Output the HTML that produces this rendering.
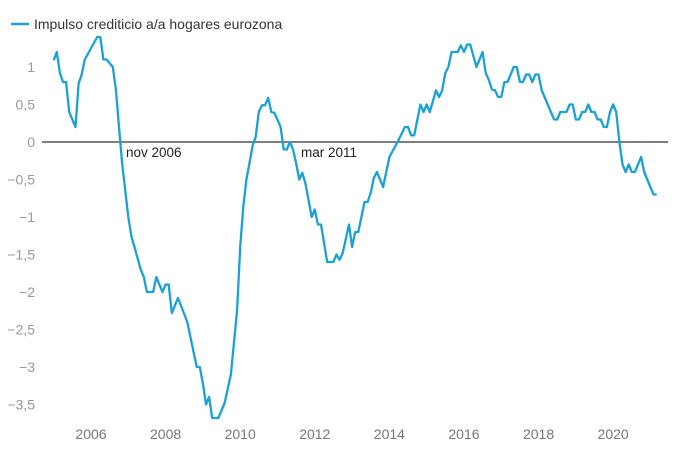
<!DOCTYPE html>
<html><head><meta charset="utf-8">
<style>
body{margin:0;background:#fff;font-family:"Liberation Sans",sans-serif;}
svg text{font-family:"Liberation Sans",sans-serif;}
</style></head>
<body>
<svg id="chart" width="680" height="461" viewBox="0 0 680 461" xmlns="http://www.w3.org/2000/svg">
  <g>
    <line x1="11" y1="24" x2="29" y2="24" stroke="#1ba2d2" stroke-width="2.5"/>
    <text x="34" y="29" font-size="14" fill="#333">Impulso crediticio a/a hogares eurozona</text>
  </g>
  <g id="yaxis"></g>
  <g id="xaxis"></g>
  <line x1="42" y1="142" x2="668" y2="142" stroke="#333" stroke-width="1.3"/>
  <g id="series"></g>
  <text x="126" y="157" font-size="13.5" fill="#222">nov 2006</text>
  <text x="301" y="157" font-size="13.5" fill="#222">mar 2011</text>
</svg>
<script>
// months since Jan 2005
const months = [0,1,2,3,4,5,7,8,9,10,14,15,16,17,19,20,21,22,23,24,25,26,28,29,30,32,33,35,36,37,38,40,43,46,47,48,49,50,51,53,55,57,59,60,61,62,63,64,65,66,67,68,69,70,71,73,74,75,76,77,78,79,80,81,83,84,85,86,88,90,91,92,93,95,96,97,98,100,101,102,103,104,106,108,111,113,114,115,116,118,119,120,121,123,124,125,126,127,128,130,131,132,133,134,136,138,139,140,141,142,143,144,145,146,148,149,150,151,152,153,154,155,156,157,161,162,163,165,166,167,168,169,170,171,172,173,174,175,176,177,178,179,180,181,182,183,184,185,186,187,189,190,191,193,194];
const values = [1.09,1.2,0.92,0.8,0.8,0.4,0.2,0.78,0.9,1.1,1.4,1.4,1.1,1.1,1.0,0.7,0.2,-0.28,-0.64,-1.0,-1.26,-1.4,-1.7,-1.8,-2.0,-2.0,-1.8,-2.0,-1.9,-1.9,-2.28,-2.08,-2.4,-3.0,-3.0,-3.22,-3.5,-3.4,-3.68,-3.68,-3.48,-3.1,-2.24,-1.4,-0.86,-0.5,-0.28,-0.05,0.07,0.4,0.49,0.49,0.59,0.4,0.39,0.2,-0.1,-0.1,0,-0.1,-0.28,-0.5,-0.41,-0.55,-1.0,-0.9,-1.1,-1.1,-1.6,-1.6,-1.5,-1.57,-1.48,-1.1,-1.4,-1.2,-1.2,-0.8,-0.8,-0.68,-0.48,-0.4,-0.6,-0.2,0.03,0.2,0.2,0.09,0.09,0.5,0.4,0.5,0.4,0.69,0.6,0.69,0.92,1.0,1.2,1.2,1.29,1.2,1.3,1.3,1.0,1.2,0.92,0.83,0.7,0.69,0.6,0.6,0.8,0.8,1.0,1.0,0.8,0.8,0.9,0.9,0.8,0.9,0.9,0.69,0.3,0.3,0.4,0.4,0.5,0.5,0.3,0.3,0.4,0.4,0.5,0.4,0.4,0.3,0.3,0.2,0.2,0.4,0.5,0.4,0,-0.3,-0.4,-0.3,-0.4,-0.4,-0.2,-0.4,-0.5,-0.7,-0.7];
const yTicks = [1,0.5,0,-0.5,-1,-1.5,-2,-2.5,-3,-3.5];
const xTicks = [2006,2008,2010,2012,2014,2016,2018,2020];

const NS="http://www.w3.org/2000/svg";
function xScale(m){return 53.7+m*3.108;}
function yScale(v){return 142-75*v;}
function fmt(v){return (v<0?"\u2212":"")+String(Math.abs(v)).replace(".",",");}

const ya=document.getElementById("yaxis");
yTicks.forEach(v=>{
  const t=document.createElementNS(NS,"text");
  
  
  t.setAttribute("x",35);t.setAttribute("y",yScale(v)+5);
  t.setAttribute("text-anchor","end");t.setAttribute("font-size","14");t.setAttribute("fill","#999");
  t.textContent=fmt(v);ya.appendChild(t);
});
const xa=document.getElementById("xaxis");
xTicks.forEach(yr=>{
  const t=document.createElementNS(NS,"text");
  
  
  t.setAttribute("x",xScale((yr-2005)*12));t.setAttribute("y",439);
  t.setAttribute("text-anchor","middle");t.setAttribute("font-size","14");t.setAttribute("fill","#777");
  t.textContent=yr;xa.appendChild(t);
});
const p=document.createElementNS(NS,"path");


p.setAttribute("d",months.map((m,i)=>(i?"L":"M")+xScale(m).toFixed(1)+" "+yScale(values[i]).toFixed(1)).join(" "));
p.setAttribute("fill","none");p.setAttribute("stroke","#1ba2d2");p.setAttribute("stroke-width","2.3");p.setAttribute("stroke-linejoin","round");
document.getElementById("series").appendChild(p);
</script>
</body></html>
